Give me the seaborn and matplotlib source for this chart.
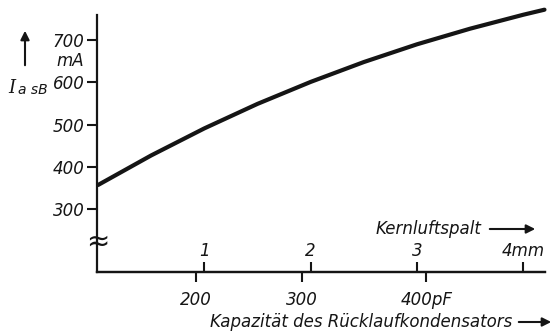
import numpy as np
import pandas as pd
import seaborn as sns
import matplotlib.pyplot as plt
from matplotlib.patches import FancyArrowPatch
from matplotlib.transforms import blended_transform_factory

# Anodenstrom über dem Kernluftspalt des Zeilentransformators
gap_mm = [0.0, 0.5, 1.0, 1.5, 2.0, 2.5, 3.0, 3.5, 4.0, 4.2]
current_ma = [357, 427, 491, 549, 601, 648, 690, 727, 760, 772]

y_ticks = [300, 400, 500, 600, 700]
gap_ticks = [1, 2, 3, 4]
gap_labels = ["1", "2", "3", "4mm"]
# Kapazität des Rücklaufkondensators, auf der Luftspalt-Skala aufgetragen
cap_tick_pos = [0.92, 1.92, 3.09]
cap_labels = ["200", "300", "400pF"]

sns.set_theme(style="white")
plt.rcParams['font.family'] = ['DejaVu Sans']
plt.rcParams['mathtext.fontset'] = 'dejavusans'

INK = "#151515"
W, H = 556, 336
fig = plt.figure(figsize=(W / 100, H / 100), dpi=100, facecolor="white")
ax = fig.add_axes([97 / W, (H - 272) / H, (545 - 97) / W, (272 - 8) / H])
ax.set_facecolor("white")

df = pd.DataFrame({"gap": gap_mm, "I": current_ma})
sns.lineplot(data=df, x="gap", y="I", ax=ax, color=INK, lw=3.0,
             solid_capstyle="round", solid_joinstyle="round", clip_on=False)

ax.set_xlim(-0.01, 4.205)
ax.set_ylim(151, 776)
ax.set_xlabel("")
ax.set_ylabel("")

for s in ("top", "right"):
    ax.spines[s].set_visible(False)
for s in ("left", "bottom"):
    ax.spines[s].set_color(INK)
    ax.spines[s].set_linewidth(1.6)
ax.spines["left"].set_bounds(151, 759)

# y-Achse
ax.set_yticks(y_ticks)
ax.tick_params(axis="y", direction="out", length=7, width=1.5, color=INK,
               labelsize=12, labelcolor=INK, pad=2, left=True)
for lbl in ax.get_yticklabels():
    lbl.set_fontstyle("italic")

# Luftspalt-Teilung oberhalb der Achse
ax.set_xticks(gap_ticks)
ax.tick_params(axis="x", direction="in", length=7, width=1.5, color=INK,
               labelbottom=False, bottom=True)
tr = blended_transform_factory(ax.transData, ax.transAxes)
for x, t in zip(gap_ticks, gap_labels):
    ax.text(x, 0.08, t, transform=tr, ha="center", va="center",
            fontsize=12, fontstyle="italic", color=INK)

# Kapazitäts-Teilung unterhalb der Achse
sec = ax.secondary_xaxis("bottom")
sec.set_xticks(cap_tick_pos, labels=cap_labels)
sec.tick_params(direction="out", length=7, width=1.5, color=INK,
                labelsize=12, labelcolor=INK, pad=7)
sec.spines["bottom"].set_color(INK)
sec.spines["bottom"].set_linewidth(1.6)
for lbl in sec.get_xticklabels():
    lbl.set_fontstyle("italic")

# Achsenbruch
ax.text(0, 222, "≈", ha="center", va="center", fontsize=20, color=INK,
        clip_on=False)

# Beschriftungen
fig.text(84 / W, 1 - 61 / H, "mA", ha="right", va="center", fontsize=12,
         fontstyle="italic", color=INK)
fig.text(8 / W, 1 - 88 / H, "I", ha="left", va="center", fontsize=13,
         fontstyle="italic", family="DejaVu Serif", color=INK)
fig.text(18 / W, 1 - 90 / H, "a sB", ha="left", va="center", fontsize=10,
         fontstyle="italic", color=INK)

fig.text(481 / W, 1 - 229 / H, "Kernluftspalt", ha="right", va="center",
         fontsize=12, fontstyle="italic", color=INK)
fig.text(512 / W, 1 - 322 / H, "Kapazität des Rücklaufkondensators",
         ha="right", va="center", fontsize=12, fontstyle="italic", color=INK)

arrow = dict(arrowstyle="-|>", color=INK, lw=1.5, mutation_scale=13)
fig.add_artist(FancyArrowPatch((487 / W, 1 - 229 / H), (538 / W, 1 - 229 / H),
                               transform=fig.transFigure, **arrow))
fig.add_artist(FancyArrowPatch((516 / W, 1 - 322 / H), (554 / W, 1 - 322 / H),
                               transform=fig.transFigure, **arrow))
fig.add_artist(FancyArrowPatch((25 / W, 1 - 68 / H), (25 / W, 1 - 28 / H),
                               transform=fig.transFigure, **arrow))

fig.savefig("out.png", dpi=100, facecolor="white")
